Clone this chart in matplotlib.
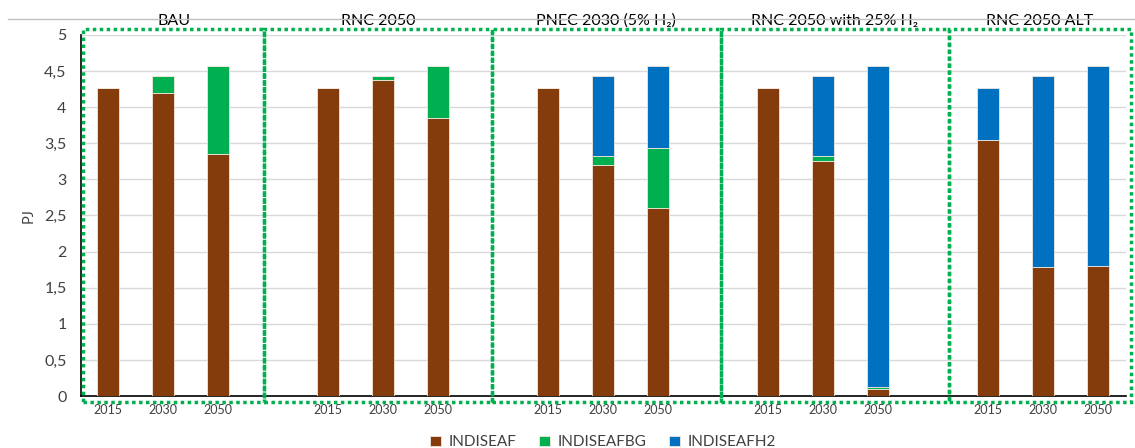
import numpy as np
import matplotlib.pyplot as plt
from matplotlib.patches import Rectangle

plt.rcParams['font.family'] = ['Lato', 'DejaVu Sans']

GROUPS = ["BAU", "RNC 2050", "PNEC 2030 (5% H₂)", "RNC 2050 with 25% H₂", "RNC 2050 ALT"]
YEARS = ["2015", "2030", "2050"]

# per group: 2015, 2030, 2050
indiseaf = [[4.27, 4.20, 3.35],
            [4.27, 4.37, 3.85],
            [4.27, 3.20, 2.60],
            [4.27, 3.25, 0.10],
            [3.55, 1.78, 1.80]]
indiseafbg = [[0.00, 0.23, 1.22],
              [0.00, 0.06, 0.72],
              [0.00, 0.13, 0.83],
              [0.00, 0.08, 0.03],
              [0.00, 0.00, 0.00]]
indiseafh2 = [[0.00, 0.00, 0.00],
              [0.00, 0.00, 0.00],
              [0.00, 1.10, 1.14],
              [0.00, 1.10, 4.44],
              [0.72, 2.65, 2.77]]

# group box edges (in category units)
BOX_EDGES = [-0.45, 2.84, 6.98, 11.14, 15.29, 18.6]

COLORS = {"INDISEAF": "#843C0C", "INDISEAFBG": "#00B050", "INDISEAFH2": "#0070C0"}


def main():
    fig = plt.figure(figsize=(11.35, 4.48), dpi=100)
    ax = fig.add_axes([80.5 / 1135, 52 / 448, 1045 / 1135, 361 / 448])

    xs, labels = [], []
    f, bg, h2 = [], [], []
    for g in range(len(GROUPS)):
        for k in range(3):
            xs.append(g * 4 + k)
            labels.append(YEARS[k])
            f.append(indiseaf[g][k])
            bg.append(indiseafbg[g][k])
            h2.append(indiseafh2[g][k])
    xs = np.array(xs)
    f, bg, h2 = np.array(f), np.array(bg), np.array(h2)

    kw = dict(width=0.4, edgecolor="#f2e6dc", linewidth=0.6, zorder=3)
    ax.bar(xs, f, color=COLORS["INDISEAF"], label="INDISEAF", **kw)
    ax.bar(xs, bg, bottom=f, color=COLORS["INDISEAFBG"], label="INDISEAFBG", **kw)
    ax.bar(xs, h2, bottom=f + bg, color=COLORS["INDISEAFH2"], label="INDISEAFH2", **kw)

    ax.set_xlim(-0.5, 18.5)
    ax.set_ylim(0, 5)
    ax.set_yticks(np.arange(0, 5.01, 0.5))
    ax.set_yticklabels([("%g" % v).replace(".", ",") for v in np.arange(0, 5.01, 0.5)],
                       fontsize=11.5, color="#404040")
    ax.set_xticks(xs)
    ax.set_xticklabels(labels, fontsize=9, color="#404040")
    ax.tick_params(length=0, pad=6)
    ax.tick_params(axis="y", pad=10)
    ax.yaxis.grid(True, color="#d9d9d9", linewidth=1, zorder=0)
    ax.set_axisbelow(True)
    for s in ["top", "right"]:
        ax.spines[s].set_visible(False)
    ax.spines["left"].set_color("black")
    ax.spines["bottom"].set_color("black")
    ax.spines["left"].set_linewidth(1.2)
    ax.spines["bottom"].set_linewidth(1.2)
    ax.set_ylabel("PJ", fontsize=10.5, color="#404040", labelpad=6)

    # dotted group boxes and titles
    for g in range(len(GROUPS)):
        x0, x1 = BOX_EDGES[g], BOX_EDGES[g + 1]
        ax.add_patch(Rectangle((x0, -0.083), x1 - x0, 5.163, fill=False,
                               edgecolor="#00B050", linestyle=(0, (1, 1)),
                               linewidth=2.5, clip_on=False, zorder=5))
        ax.text((x0 + x1) / 2, 5.2, GROUPS[g], ha="center", va="center",
                fontsize=11.5, color="black", clip_on=False)

    # thin grey header line
    fig.add_artist(plt.Line2D([8 / 1135, 1], [1 - 19 / 448, 1 - 19 / 448],
                              color="#bfbfbf", linewidth=1))

    ax.legend(loc="lower center", bbox_to_anchor=(0.5, -0.165), ncol=3, frameon=False,
              fontsize=11, handlelength=0.7, handleheight=0.7, columnspacing=1.5,
              handletextpad=0.5, labelcolor="#404040", borderaxespad=0)

    fig.savefig("out.png", dpi=100)


if __name__ == "__main__":
    main()
